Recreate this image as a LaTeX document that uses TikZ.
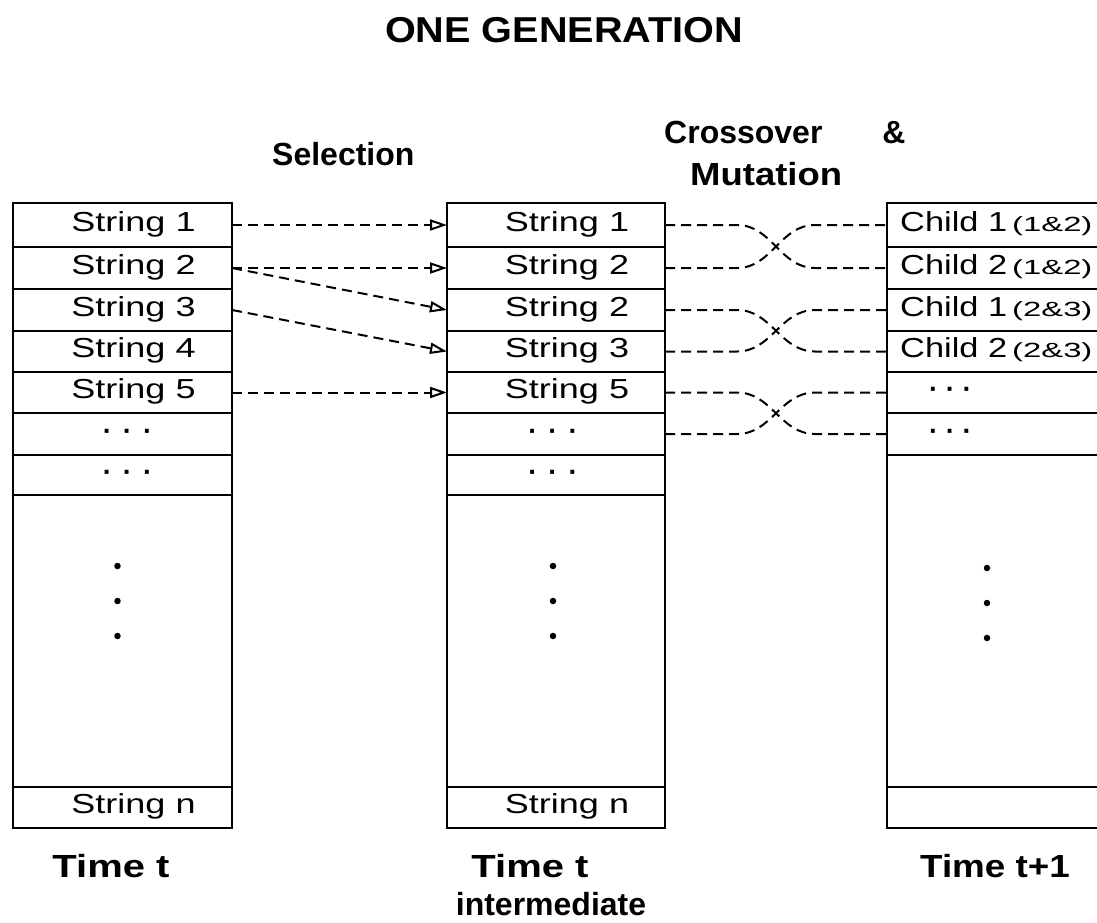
\documentclass[tikz,border=0pt]{standalone}
\usepackage{fontspec}
\setmainfont{Liberation Sans}
\usetikzlibrary{arrows.meta,calc}
\newcommand{\rowfont}{\fontsize{27.5}{32}\selectfont}
\newcommand{\headfont}{\fontsize{32}{38}\selectfont\bfseries}
\newcommand{\xstretch}[2]{\scalebox{#1}[1]{#2}}
\newcommand{\strtxt}[1]{\strut\hspace*{22pt}\xstretch{1.31}{#1}}
\newcommand{\elli}[1]{\strut\hspace*{#1}{\bfseries·\hspace{11pt}·\hspace{11pt}·}}
\newcommand{\child}[2]{\strut\xstretch{1.25}{Child #1}\hspace{5pt}\xstretch{1.6}{\fontsize{20.5}{24}\selectfont(#2)}}
\begin{document}
\begin{tikzpicture}[x=1pt,y=-1pt,
  cell/.style={draw, line width=1.7pt, inner sep=0pt, outer sep=0pt, anchor=north west, font=\rowfont},
  lcell/.style={cell, minimum width=219pt},
  mcell/.style={cell, minimum width=218pt},
  rcell/.style={cell, minimum width=240pt},
  frame/.style={line width=2.6pt},
  link/.style={line width=2pt, dash pattern=on 10pt off 6pt},
  selarrow/.style={link, -{Triangle[open, length=17pt, width=11pt, line width=2pt]}},
  vdot/.style={circle, fill=black, draw=none, inner sep=0pt, minimum size=6.5pt},
  head/.style={font=\headfont, inner sep=0pt},
  txt/.style={font=\rowfont, inner sep=0pt},
]
\useasboundingbox (0,0) rectangle (1097,923);
\clip (0,0) rectangle (1097,923);

% headings
\node[head, anchor=base] (title) at (564,43) {\xstretch{1.10}{\fontsize{36}{40}\selectfont ONE GENERATION}};
\node[head, anchor=base west] (selhead) at (272,165) {Selection};
\node[head, anchor=base west] (xohead) at (664,143) {Crossover\hspace{60pt}\&};
\node[head, anchor=base west] (muthead) at (690,185) {\xstretch{1.14}{Mutation}};

% population at time t
\node[lcell, minimum height=44pt] (L1) at (13,203) {\strtxt{String 1}};
\node[lcell, minimum height=42pt] (L2) at (13,247) {\strtxt{String 2}};
\node[lcell, minimum height=42pt] (L3) at (13,289) {\strtxt{String 3}};
\node[lcell, minimum height=41pt] (L4) at (13,331) {\strtxt{String 4}};
\node[lcell, minimum height=41pt] (L5) at (13,372) {\strtxt{String 5}};
\node[lcell, minimum height=42pt] (L6) at (13,413) {\elli{10pt}};
\node[lcell, minimum height=40pt] (L7) at (13,455) {\elli{10pt}};
\node[lcell, minimum height=292pt] (L8) at (13,495) {};
\node[lcell, minimum height=41pt] (L9) at (13,787) {\strtxt{String n}};
\draw[frame] (L1.north west) rectangle (L9.south east);

% intermediate population
\node[mcell, minimum height=44pt] (M1) at (447,203) {\strtxt{String 1}};
\node[mcell, minimum height=42pt] (M2) at (447,247) {\strtxt{String 2}};
\node[mcell, minimum height=42pt] (M3) at (447,289) {\strtxt{String 2}};
\node[mcell, minimum height=41pt] (M4) at (447,331) {\strtxt{String 3}};
\node[mcell, minimum height=41pt] (M5) at (447,372) {\strtxt{String 5}};
\node[mcell, minimum height=42pt] (M6) at (447,413) {\elli{-6pt}};
\node[mcell, minimum height=40pt] (M7) at (447,455) {\elli{-6pt}};
\node[mcell, minimum height=292pt] (M8) at (447,495) {};
\node[mcell, minimum height=41pt] (M9) at (447,787) {\strtxt{String n}};
\draw[frame] (M1.north west) rectangle (M9.south east);

% population at time t+1
\node[rcell, minimum height=44pt] (R1) at (887,203) {};
\node[rcell, minimum height=42pt] (R2) at (887,247) {};
\node[rcell, minimum height=42pt] (R3) at (887,289) {};
\node[rcell, minimum height=41pt] (R4) at (887,331) {};
\node[rcell, minimum height=41pt] (R5) at (887,372) {};
\node[rcell, minimum height=42pt] (R6) at (887,413) {};
\node[rcell, minimum height=332pt] (R7) at (887,455) {};
\node[rcell, minimum height=41pt] (R8) at (887,787) {};
\draw[frame] (R1.north west) rectangle (R8.south east);
\node[txt, anchor=west] (c1) at ($(R1.west)+(13,0)$) {\child{1}{1\&2}};
\node[txt, anchor=west] (c2) at ($(R2.west)+(13,0)$) {\child{2}{1\&2}};
\node[txt, anchor=west] (c3) at ($(R3.west)+(13,0)$) {\child{1}{2\&3}};
\node[txt, anchor=west] (c4) at ($(R4.west)+(13,0)$) {\child{2}{2\&3}};
\node[txt, anchor=west] (e5) at ($(R5.west)+(42,0)$) {\strut{\bfseries·\hspace{7.5pt}·\hspace{7.5pt}·}};
\node[txt, anchor=west] (e6) at ($(R6.west)+(42,0)$) {\strut{\bfseries·\hspace{7.5pt}·\hspace{7.5pt}·}};

% vertical ellipses in the tall cells
\foreach \k/\dy in {1/71,2/106,3/141} {
  \node[vdot] (ldot\k) at ($(L8.north)+(-5,\dy)$) {};
  \node[vdot] (mdot\k) at ($(M8.north)+(-3,\dy)$) {};
  \node[vdot] (rdot\k) at ($(R7.north west)+(100,\dy+42)$) {};
}

% selection
\draw[selarrow] (L1.east) -- (M1.west);
\draw[selarrow] (L2.east) -- (M2.west);
\draw[selarrow] (L2.east) -- (M3.west);
\draw[selarrow] (L3.east) -- (M4.west);
\draw[selarrow] (L5.east) -- (M5.west);

% crossover pairs
\draw[link] (M1.east) -- ++(72,0) .. controls +(35,0) and +(-35,0) .. ($(R2.west)+(-72,0)$) -- (R2.west);
\draw[link] (M2.east) -- ++(72,0) .. controls +(35,0) and +(-35,0) .. ($(R1.west)+(-72,0)$) -- (R1.west);
\draw[link] (M3.east) -- ++(72,0) .. controls +(35,0) and +(-35,0) .. ($(R4.west)+(-72,0)$) -- (R4.west);
\draw[link] (M4.east) -- ++(72,0) .. controls +(35,0) and +(-35,0) .. ($(R3.west)+(-72,0)$) -- (R3.west);
\draw[link] (M5.east) -- ++(72,0) .. controls +(35,0) and +(-35,0) .. ($(R6.west)+(-72,0)$) -- (R6.west);
\draw[link] (M6.east) -- ++(72,0) .. controls +(35,0) and +(-35,0) .. ($(R5.west)+(-72,0)$) -- (R5.west);

% time labels
\node[head, anchor=base] (tl) at (111,877) {\xstretch{1.25}{Time t}};
\node[head, anchor=base] (tm) at (530,877) {\xstretch{1.25}{Time t}};
\node[head, anchor=base] (tmi) at (551,915) {intermediate};
\node[head, anchor=base] (tr) at (995,877) {\xstretch{1.15}{Time t+1}};
\end{tikzpicture}
\end{document}
